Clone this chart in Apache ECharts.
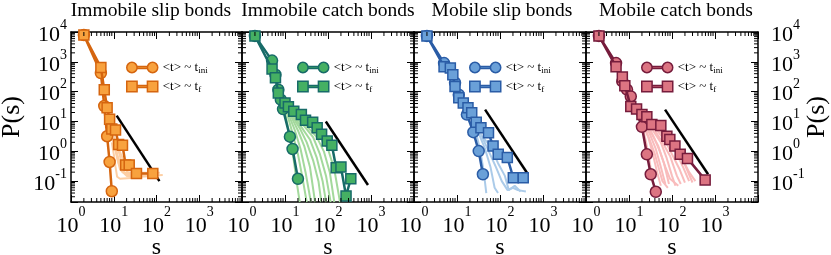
<!DOCTYPE html>
<html><head><meta charset="utf-8">
<script src="https://cdn.jsdelivr.net/npm/echarts@6/dist/echarts.min.js"></script>
<style>html,body{margin:0;padding:0;background:#fff}#c{width:831px;height:255px}</style>
</head><body><div id="c"></div>
<script>
// ---------------- DATA ----------------
const panelTitles = ['Immobile slip bonds', 'Immobile catch bonds', 'Mobile slip bonds', 'Mobile catch bonds'];
const xTickLabels = [1, 10, 100, 1000];           // labelled x ticks (10^0..10^3)
const yTickLabels = [0.1, 1, 10, 100, 1000, 10000]; // labelled y ticks

// Panel 1: immobile slip bonds
const p1CircS = [2, 5, 6, 7, 8, 9];
const p1CircP = [7900, 420, 33, 3.2, 0.44, 0.046];
const p1SqS = [2, 5, 6, 7, 8, 9, 11, 13, 16, 19, 23, 34, 82];
const p1SqP = [7900, 650, 115, 29, 12, 5.6, 5.2, 1.7, 1.6, 0.35, 0.35, 0.18, 0.18];
const p1Slope = [[11.7, 15.8], [117, 0.1]];
const p1Faint = [
  [[9, 4], [11, 1.2], [13, 0.4], [16, 0.2], [30, 0.17], [100, 0.17]],
  [[9, 5], [10, 2], [12, 0.6], [14, 0.25], [20, 0.15], [60, 0.15], [140, 0.16]],
  [[9, 3], [11, 1.5], [13, 1.0], [16, 0.35], [22, 0.18], [50, 0.16], [90, 0.18]],
  [[10, 4], [12, 0.8], [15, 0.3], [18, 0.18], [40, 0.14], [80, 0.15]],
  [[9, 2], [10, 0.8], [11, 0.3], [12, 0.14], [14, 0.12], [30, 0.13]],
  [[10, 3], [13, 1.2], [17, 0.5], [21, 0.2], [35, 0.19], [120, 0.19]]
];

// Panel 2: immobile catch bonds
const p2CircS = [2, 5, 6, 7, 8, 9, 13, 15, 20];
const p2CircP = [7400, 1100, 370, 117, 54, 26, 3.1, 1.2, 0.12];
const p2SqS = [2, 5, 6, 7, 10, 12, 16, 24, 30, 44, 56, 71, 96, 123, 155, 200, 263, 339];
const p2SqP = [7400, 575, 290, 91, 42, 31, 22, 17, 11, 9.5, 6.2, 3.7, 2.2, 1.6, 0.28, 0.30, 0.032, 0.12];
const p2Slope = [[89, 10], [851, 0.074]];
const p2Faint = [
  [[10, 20], [13, 3], [16, 0.5], [19, 0.08], [22, 0.02]],
  [[11, 20], [15, 4], [20, 0.8], [25, 0.15], [32, 0.02]],
  [[12, 18], [17, 5], [23, 1.2], [30, 0.2], [40, 0.02]],
  [[13, 18], [20, 5], [28, 1.5], [38, 0.3], [50, 0.02]],
  [[14, 17], [22, 6], [32, 2], [45, 0.5], [60, 0.1], [70, 0.02]],
  [[15, 17], [25, 6], [38, 2.5], [55, 0.6], [75, 0.1], [90, 0.02]],
  [[16, 16], [28, 7], [45, 3], [65, 0.8], [90, 0.15], [115, 0.02]],
  [[18, 16], [32, 7], [55, 3], [80, 1], [110, 0.2], [140, 0.02]],
  [[20, 15], [35, 8], [60, 3.5], [100, 1.2], [140, 0.25], [190, 0.02]]
];

// Panel 3: mobile slip bonds
const p3CircS = [2, 5, 9, 11, 17, 24, 32, 40];
const p3CircP = [7400, 910, 200, 79, 17, 4.4, 1.02, 0.17];
const p3SqS = [2, 5, 7, 8, 9, 11, 14, 18, 22, 28, 36, 54, 69, 91, 148, 204, 347];
const p3SqP = [7400, 690, 620, 370, 150, 62, 42, 29, 19.5, 9.5, 6.2, 4.2, 1.5, 0.79, 0.62, 0.13, 0.13];
const p3Slope = [[45, 25], [447, 0.17]];
const p3Faint = [
  [[28, 4], [35, 1], [42, 0.2], [48, 0.04]],
  [[30, 5], [45, 1.2], [60, 0.3], [75, 0.06], [90, 0.04]],
  [[35, 4], [55, 1], [80, 0.3], [110, 0.1], [150, 0.05], [200, 0.06], [260, 0.05], [400, 0.045]],
  [[40, 3], [60, 1.5], [90, 0.4], [130, 0.15], [160, 0.05], [220, 0.07], [300, 0.045]]
];

// Panel 4: mobile catch bonds
const p4CircS = [2, 5, 7, 9, 11, 20, 26, 32, 42];
const p4CircP = [7400, 910, 220, 117, 69, 6.6, 0.79, 0.17, 0.044];
const p4SqS = [2, 5, 7, 8, 11, 15, 20, 26, 34, 55, 76, 89, 117, 155, 229, 590];
const p4SqP = [7400, 690, 310, 158, 32, 26, 17, 14.5, 7.9, 7.4, 3.2, 2.5, 1.5, 0.79, 0.58, 0.11];
const p4Slope = [[69, 25], [690, 0.17]];
const p4Faint = [
  [[20, 8], [25, 2], [30, 0.5], [35, 0.1], [40, 0.06]],
  [[20, 9], [28, 3], [36, 0.8], [45, 0.2], [55, 0.07]],
  [[21, 9], [30, 4], [42, 1.2], [55, 0.3], [70, 0.08]],
  [[22, 9], [33, 4], [48, 1.5], [65, 0.4], [85, 0.08]],
  [[23, 10], [36, 5], [55, 2], [75, 0.6], [100, 0.15], [120, 0.07]],
  [[24, 10], [40, 5], [60, 2], [90, 0.7], [130, 0.15], [160, 0.08]],
  [[25, 10], [45, 5], [70, 2.2], [100, 0.8], [150, 0.25], [200, 0.09]],
  [[26, 10], [50, 5], [80, 2.5], [120, 1], [180, 0.3], [250, 0.1]],
  [[28, 10], [55, 5], [90, 2.5], [140, 1], [200, 0.35], [300, 0.09]],
  [[30, 9], [60, 4], [100, 2], [160, 0.7], [250, 0.2], [350, 0.1]],
  [[22, 8], [30, 2.5], [40, 0.8], [50, 0.25], [60, 0.1], [80, 0.06]],
  [[26, 9], [38, 3], [52, 1], [70, 0.3], [90, 0.12], [140, 0.07]]
];

// ---------------- STYLE / LAYOUT ----------------
const FONT = '"Liberation Serif","DejaVu Serif","Times New Roman",serif';
const X_MIN = 1, X_MAX = 10000, Y_MIN = 0.02, Y_MAX = 10000;
const gridLefts = [71, 242, 414, 586];
const gridWidths = [171, 172, 172, 172];
const titleCenters = [151, 328, 502, 676];
const GRID_TOP = 32, GRID_H = 170;
const colors = [
  { line: '#d5650f', fill: '#f8a23e', faint: '#fdcfa4' },
  { line: '#176b68', fill: '#45b063', faint: '#a3d99c' },
  { line: '#2a5ca6', fill: '#6aa0d8', faint: '#abcbe9' },
  { line: '#761c3c', fill: '#dc7482', faint: '#f9bcbc' }
];
const panels = [
  { cs: p1CircS, cp: p1CircP, ss: p1SqS, sp: p1SqP, slope: p1Slope, faint: p1Faint },
  { cs: p2CircS, cp: p2CircP, ss: p2SqS, sp: p2SqP, slope: p2Slope, faint: p2Faint },
  { cs: p3CircS, cp: p3CircP, ss: p3SqS, sp: p3SqP, slope: p3Slope, faint: p3Faint },
  { cs: p4CircS, cp: p4CircP, ss: p4SqS, sp: p4SqP, slope: p4Slope, faint: p4Faint }
];

function isLabelled(v, list) {
  return list.some(t => Math.abs(Math.log10(v) - Math.log10(t)) < 1e-6);
}
function powLabel(v) {
  return '{b|10}{s|' + Math.round(Math.log10(v)) + '}';
}
function richLab(lh) {
  return {
    b: { fontFamily: FONT, fontSize: 22, color: '#000', verticalAlign: 'bottom', lineHeight: lh },
    s: { fontFamily: FONT, fontSize: 14, color: '#000', verticalAlign: 'top', lineHeight: lh }
  };
}

// minor tick positions (2..9 x 10^n)
const xMinor = [], yMinor = [];
for (let n = -2; n <= 3; n++) for (let k = 2; k <= 9; k++) {
  const v = k * Math.pow(10, n);
  if (v > X_MIN && v < X_MAX) xMinor.push(v);
  if (v > Y_MIN && v < Y_MAX) yMinor.push(v);
}
const minorData = xMinor.map(v => [v, 1, 0]).concat(yMinor.map(v => [1, v, 1]));
function minorRender(params, api) {
  const cs = params.coordSys;
  const L = 4, st = { stroke: '#000', lineWidth: 1 };
  if (api.value(2) === 0) {
    const x = api.coord([api.value(0), 1])[0];
    const b = cs.y + cs.height, t = cs.y;
    return { type: 'group', children: [
      { type: 'line', shape: { x1: x, y1: b, x2: x, y2: b - L }, style: st },
      { type: 'line', shape: { x1: x, y1: t, x2: x, y2: t + L }, style: st }
    ] };
  }
  const y = api.coord([1, api.value(1)])[1];
  const l = cs.x, r = cs.x + cs.width;
  return { type: 'group', children: [
    { type: 'line', shape: { x1: l, y1: y, x2: l + L, y2: y }, style: st },
    { type: 'line', shape: { x1: r, y1: y, x2: r - L, y2: y }, style: st }
  ] };
}

const CIRC_ICON = 'path://M0,5A5,5,0,1,1,10,5A5,5,0,1,1,0,5Z M20,5A5,5,0,1,1,30,5A5,5,0,1,1,20,5Z M10,4L20,4L20,6L10,6Z';
const SQ_ICON = 'path://M0,0L10,0L10,10L0,10Z M20,0L30,0L30,10L20,10Z M10,4L20,4L20,6L10,6Z';

const grid = [], xAxis = [], yAxis = [], series = [], legend = [], graphic = [];
const axisLineStyle = { lineStyle: { color: '#000', width: 1.5 } };
const tickStyle = { inside: true, length: 7, lineStyle: { color: '#000', width: 1 } };
panels.forEach((p, i) => {
  grid.push({ left: gridLefts[i], top: GRID_TOP, width: gridWidths[i], height: GRID_H,
    containLabel: false, outerBoundsMode: 'none' });
  const c = colors[i];
  // bottom x
  xAxis.push({
    type: 'log', logBase: 10, min: X_MIN, max: X_MAX, gridIndex: i, position: 'bottom',
    axisLine: axisLineStyle, splitLine: { show: false }, axisTick: tickStyle,
    axisLabel: { margin: 3, showMinLabel: true, showMaxLabel: true, hideOverlap: false,
      formatter: v => isLabelled(v, xTickLabels) ? powLabel(v) : '', rich: richLab(32) },
    name: 's', nameLocation: 'middle', nameGap: 34, nameMoveOverlap: false,
    nameTextStyle: { fontFamily: FONT, fontSize: 24, color: '#000' }
  });
  // top x mirror
  xAxis.push({
    type: 'log', logBase: 10, min: X_MIN, max: X_MAX, gridIndex: i, position: 'top',
    axisLine: axisLineStyle, splitLine: { show: false }, axisTick: tickStyle,
    axisLabel: { show: false }
  });
  // left y
  yAxis.push({
    type: 'log', logBase: 10, min: Y_MIN, max: Y_MAX, gridIndex: i, position: 'left',
    axisLine: axisLineStyle, splitLine: { show: false }, axisTick: tickStyle,
    axisLabel: { show: i === 0, margin: 4, hideOverlap: false,
      formatter: v => isLabelled(v, yTickLabels) ? powLabel(v) : '', rich: richLab(28) },
    name: i === 0 ? 'P(s)' : '', nameLocation: 'middle', nameRotate: 90, nameGap: 46, nameMoveOverlap: false,
    nameTextStyle: { fontFamily: FONT, fontSize: 26, color: '#000' }
  });
  // right y
  yAxis.push({
    type: 'log', logBase: 10, min: Y_MIN, max: Y_MAX, gridIndex: i, position: 'right',
    axisLine: axisLineStyle, splitLine: { show: false }, axisTick: tickStyle,
    axisLabel: { show: i === 3, margin: 13, hideOverlap: false,
      formatter: v => isLabelled(v, yTickLabels) ? powLabel(v) : '', rich: richLab(28) },
    name: i === 3 ? 'P(s)' : '', nameLocation: 'middle', nameRotate: 90, nameGap: 46, nameMoveOverlap: false,
    nameTextStyle: { fontFamily: FONT, fontSize: 26, color: '#000' }
  });
  const xi = i * 2, yi = i * 2;
  // minor ticks
  series.push({ type: 'custom', xAxisIndex: xi, yAxisIndex: yi, data: minorData, renderItem: minorRender, silent: true, z: 5, clip: false });
  // faint individual curves
  p.faint.forEach((f, k) => series.push({
    type: 'line', name: 'faint' + i + '_' + k, xAxisIndex: xi, yAxisIndex: yi, data: f,
    showSymbol: false, symbol: 'none', silent: true, z: 1,
    lineStyle: { color: c.faint, width: 2 }
  }));
  // slope guide
  series.push({ type: 'line', name: 'slope' + i, xAxisIndex: xi, yAxisIndex: yi, data: p.slope,
    symbol: 'none', silent: true, z: 2, lineStyle: { color: '#000', width: 2.5 } });
  // circles
  series.push({ type: 'line', name: 'p' + i + 'ini', xAxisIndex: xi, yAxisIndex: yi,
    data: p.cs.map((s, k) => [s, p.cp[k]]), symbol: 'circle', symbolSize: 11, z: 3,
    lineStyle: { color: c.line, width: 2.5 },
    itemStyle: { color: c.fill, borderColor: c.line, borderWidth: 1.5 } });
  // squares
  series.push({ type: 'line', name: 'p' + i + 'f', xAxisIndex: xi, yAxisIndex: yi,
    data: p.ss.map((s, k) => [s, p.sp[k]]), symbol: 'rect', symbolSize: 10, z: 4,
    lineStyle: { color: c.line, width: 2.5 },
    itemStyle: { color: c.fill, borderColor: c.line, borderWidth: 1.5 } });
  legend.push({
    left: gridLefts[i] + 55, top: 60, orient: 'vertical', itemGap: 4, itemWidth: 31, itemHeight: 11,
    selectedMode: false, padding: 0,
    data: [
      { name: 'p' + i + 'ini', icon: CIRC_ICON, itemStyle: { color: c.fill, borderColor: c.line, borderWidth: 1.5 } },
      { name: 'p' + i + 'f', icon: SQ_ICON, itemStyle: { color: c.fill, borderColor: c.line, borderWidth: 1.5 } }
    ],
    formatter: n => n.endsWith('ini') ? '{m|<t> ~ t}{s|ini}' : '{m|<t> ~ t}{s|f}',
    textStyle: { rich: {
      m: { fontFamily: FONT, fontSize: 13, color: '#000', lineHeight: 15 },
      s: { fontFamily: FONT, fontSize: 9, color: '#000', padding: [6, 0, 0, 0], lineHeight: 15 }
    } }
  });
  graphic.push({ type: 'text', x: titleCenters[i], y: 1,
    style: { text: panelTitles[i], fill: '#000', font: '19.5px ' + FONT, align: 'center', verticalAlign: 'top' } });
});

const chart = echarts.init(document.getElementById('c'), null, { renderer: 'canvas' });
chart.setOption({
  animation: false, backgroundColor: '#fff',
  grid, xAxis, yAxis, series, legend, graphic,
  tooltip: { show: false }
});
</script></body></html>
